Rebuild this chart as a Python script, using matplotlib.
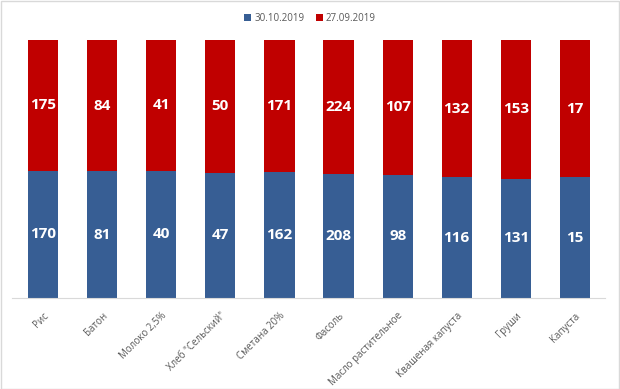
import matplotlib.pyplot as plt
import numpy as np

categories = ['Рис', 'Батон', 'Молоко 2,5%', 'Хлеб "Сельский"', 'Сметана 20%',
              'Фасоль', 'Масло растительное', 'Квашеная капуста', 'Груши', 'Капуста']
oct_vals = [170, 81, 40, 47, 162, 208, 98, 116, 131, 15]
sep_vals = [175, 84, 41, 50, 171, 224, 107, 132, 153, 17]

plt.rcParams['font.family'] = ['Open Sans', 'DejaVu Sans']

blue = '#375e94'
red = '#c00000'

fig = plt.figure(figsize=(6.2, 3.89), dpi=100)
ax = fig.add_axes([13.5 / 620, 1 - 298 / 389, 591 / 620, 258 / 389])

x = np.arange(len(categories))
oct_a = np.array(oct_vals, dtype=float)
sep_a = np.array(sep_vals, dtype=float)
tot = oct_a + sep_a
p1 = oct_a / tot
p2 = sep_a / tot

ax.bar(x, p1, width=0.51, color=blue, label='30.10.2019')
ax.bar(x, p2, width=0.51, bottom=p1, color=red, label='27.09.2019')

for i in range(len(x)):
    ax.text(x[i], p1[i] / 2, str(oct_vals[i]), ha='center', va='center',
            color='white', fontsize=11, fontweight='bold')
    ax.text(x[i], p1[i] + p2[i] / 2, str(sep_vals[i]), ha='center', va='center',
            color='white', fontsize=11, fontweight='bold')

ax.set_xlim(-0.5, len(x) - 0.5)
ax.set_ylim(0, 1)
ax.set_yticks([])
ax.set_xticks(x)
ax.set_xticklabels(categories, rotation=45, ha='right', rotation_mode='anchor',
                   fontsize=7, color='#595959')
ax.tick_params(axis='x', length=0, pad=9)
for s in ['top', 'right', 'left']:
    ax.spines[s].set_visible(False)
ax.spines['bottom'].set_color('#d9d9d9')
ax.spines['bottom'].set_bounds(-0.52, len(x) - 0.5)

fig.legend(loc='upper center', bbox_to_anchor=(0.5, 0.99), ncol=2, frameon=False,
           fontsize=7, handlelength=0.7, handleheight=0.7, handletextpad=0.3,
           columnspacing=1.2, labelcolor='#595959')

# рамка вокруг картинки
fig.patches.append(plt.Rectangle((0.001, 0.001), 0.997, 0.997, transform=fig.transFigure,
                                 fill=False, edgecolor='#d9d9d9', linewidth=1))

plt.savefig('out.png', dpi=100, facecolor='white')
